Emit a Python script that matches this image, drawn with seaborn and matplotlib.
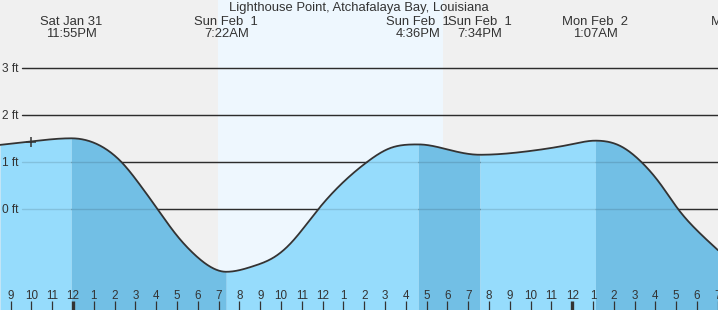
import numpy as np
import pandas as pd
import matplotlib
matplotlib.use("Agg")
import matplotlib.pyplot as plt
import seaborn as sns
from matplotlib.transforms import blended_transform_factory

# ---------------- data (hours relative to Sun Feb 1 00:00) ----------------
curve_hours = [-3.51, -2.07, -0.083, 0.98, 1.78, 2.34, 3.22, 4.07, 4.98, 5.79,
               6.59, 7.367, 8.67, 9.63, 10.43, 11.79, 13.32, 14.12, 15.24,
               16.60, 18.12, 19.567, 21.97, 24.05, 25.117, 26.30, 27.34,
               28.22, 29.10, 29.98, 31.01]
curve_ft = [1.37, 1.44, 1.51, 1.42, 1.22, 1.00, 0.52, 0.00, -0.55, -0.94,
            -1.22, -1.33, -1.21, -1.03, -0.74, 0.00, 0.71, 1.00, 1.30,
            1.38, 1.26, 1.16, 1.24, 1.39, 1.46, 1.35, 1.00,
            0.55, 0.00, -0.44, -0.87]

ext_hours = [-0.083, 7.367, 16.60, 19.567, 25.117, 32.24]
ext_dates = ["Sat Jan 31", "Sun Feb  1", "Sun Feb  1", "Sun Feb  1", "Mon Feb  2", "Mon Feb  2"]
ext_times = ["11:55PM", "7:22AM", "4:36PM", "7:34PM", "1:07AM", ""]

sunrise_h = 6.97
sunset_h = 17.79

now_hour = [-2.02]
now_ft = [1.43]

grid_ft = [0, 1, 2, 3]
grid_labels = ["0 ft", "1 ft", "2 ft", "3 ft"]

hour_ticks = list(range(-3, 32))
hour_labels = [str(h % 12 or 12) for h in hour_ticks]

title = "Lighthouse Point, Atchafalaya Bay, Louisiana"

# ---------------- style ----------------
W, H = 718, 310
XMIN, XMAX = -3.51, 31.01
YMIN, YMAX = -2.143, 4.453
NIGHT = "#f0f0f0"
DAY = "#eef7fe"
RISE = "#96dcfc"
FALL = "#72bfe5"
INK = "#333333"

sns.set_theme(style="white")
plt.rcParams["font.family"] = ["Liberation Sans", "DejaVu Sans"]


def spline_segment(x, y, xq, clamp_start, clamp_end):
    """Cubic spline; zero slope at an end that is a high/low water turning point."""
    n = len(x)
    h = np.diff(x)
    A = np.zeros((n, n))
    r = np.zeros(n)
    if clamp_start:
        A[0, 0], A[0, 1] = 2 * h[0], h[0]
        r[0] = 6 * ((y[1] - y[0]) / h[0])
    else:
        A[0, 0] = 1.0
    if clamp_end:
        A[-1, -2], A[-1, -1] = h[-1], 2 * h[-1]
        r[-1] = 6 * (0 - (y[-1] - y[-2]) / h[-1])
    else:
        A[-1, -1] = 1.0
    for i in range(1, n - 1):
        A[i, i - 1] = h[i - 1]
        A[i, i] = 2 * (h[i - 1] + h[i])
        A[i, i + 1] = h[i]
        r[i] = 6 * ((y[i + 1] - y[i]) / h[i] - (y[i] - y[i - 1]) / h[i - 1])
    M = np.linalg.solve(A, r)
    i = np.clip(np.searchsorted(x, xq) - 1, 0, n - 2)
    a = x[i + 1] - xq
    b = xq - x[i]
    hi = h[i]
    return (M[i] * a**3 / (6 * hi) + M[i + 1] * b**3 / (6 * hi)
            + (y[i] / hi - M[i] * hi / 6) * a + (y[i + 1] / hi - M[i + 1] * hi / 6) * b)


def smooth_curve(xq):
    x = np.asarray(curve_hours, float)
    y = np.asarray(curve_ft, float)
    xq = np.asarray(xq, float)
    turn_idx = [int(np.argmin(np.abs(x - e))) for e in ext_hours if XMIN < e < XMAX]
    cuts = [0] + turn_idx + [len(x) - 1]
    out = np.empty_like(xq)
    for s, e in zip(cuts[:-1], cuts[1:]):
        sel = (xq >= x[s]) & (xq <= x[e])
        out[sel] = spline_segment(x[s:e + 1], y[s:e + 1], xq[sel],
                                  s in turn_idx, e in turn_idx)
    return out


fig = plt.figure(figsize=(W / 100, H / 100), dpi=100)
ax = fig.add_axes([0, 0, 1, 1])
ax.set_xlim(XMIN, XMAX)
ax.set_ylim(YMIN, YMAX)
ax.axis("off")
bt = blended_transform_factory(ax.transData, ax.transAxes)
bt_y = blended_transform_factory(ax.transAxes, ax.transData)

# backgrounds
ax.axvspan(XMIN, XMAX, color=NIGHT, zorder=0, lw=0)
ax.axvspan(sunrise_h, sunset_h, color=DAY, zorder=0.5, lw=0)

# grid lines (under fill)
gx0 = 22 / W
for g in grid_ft:
    ax.axhline(g, xmin=gx0, xmax=1, color=INK, lw=1.0, zorder=1)

# fills by rising / falling
bounds = [XMIN] + [e for e in ext_hours if XMIN < e < XMAX] + [XMAX]
for a, b in zip(bounds[:-1], bounds[1:]):
    xs = np.linspace(a, b, 400)
    ys = smooth_curve(xs)
    col = RISE if ys[-1] > ys[0] else FALL
    ax.fill_between(xs, ys, YMIN, color=col, lw=0, zorder=2)

# faint grid lines visible through the water
for g in grid_ft:
    ax.axhline(g, xmin=gx0, xmax=1, color="#000000", alpha=0.12, lw=1.0, zorder=3)

# tide curve
xq = np.linspace(XMIN, XMAX, 1600)
df = pd.DataFrame({"hour": xq, "ft": smooth_curve(xq)})
sns.lineplot(data=df, x="hour", y="ft", ax=ax, color=INK, lw=1.3, zorder=4,
             estimator=None, sort=False)

# current-time marker
ax.plot(now_hour, now_ft, marker="+", ms=6.5, mew=1.1, color=INK, ls="none", zorder=5)

# grid labels
for g, lab in zip(grid_ft, grid_labels):
    ax.text(2.5 / W, g - 3.7 / 47, lab, transform=bt_y, ha="left", va="baseline",
            fontsize=8.6, color=INK, zorder=6)

# hour ticks and labels
for h, lab in zip(hour_ticks, hour_labels):
    thick = (h % 24 == 0)
    ax.plot([h, h], [0, 9 / H], transform=bt, color=INK,
            lw=2.4 if thick else 0.9, solid_capstyle="butt", zorder=6)
    ax.text(h, 1 - 299.3 / H, lab, transform=bt, ha="center", va="baseline",
            fontsize=8.4, color=INK, zorder=6)

# title and extreme labels
ax.text(0.5, 1 - 11.5 / H, title, transform=ax.transAxes, ha="center", va="baseline",
        fontsize=9.4, color=INK, zorder=6)
for h, d, t in zip(ext_hours, ext_dates, ext_times):
    ax.text(h, 1 - 25 / H, d, transform=bt, ha="center", va="baseline",
            fontsize=9.4, color=INK, zorder=6, clip_on=True)
    if t:
        ax.text(h, 1 - 36.7 / H, t, transform=bt, ha="center", va="baseline",
                fontsize=9.4, color=INK, zorder=6, clip_on=True)

fig.savefig("out.png", dpi=100)
